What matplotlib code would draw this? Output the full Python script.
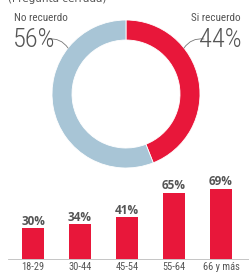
import matplotlib.pyplot as plt

# Data
donut_labels = ['Si recuerdo', 'No recuerdo']
donut_values = [44, 56]
donut_colors = ['#E8173A', '#A8C5D6']

age_groups = ['18-29', '30-44', '45-54', '55-64', '66 y más']
recall_pct = [30, 34, 41, 65, 69]
bar_color = '#E8173A'

W, H = 249, 273
fig = plt.figure(figsize=(W / 100, H / 100), dpi=100)


def box(x0, y0_top, w, h):
    # pixel box (top-left origin) -> figure fraction
    return [x0 / W, 1 - (y0_top + h) / H, w / W, h / H]


# header (cut off in the original)
fig.text(8 / W, 1 + 1 / H, '(Pregunta cerrada)', fontsize=7.5, color='#555555',
         va='center', ha='left')

# Donut
cx, cy = 126, 94
ax_d = fig.add_axes(box(cx - 80, cy - 80, 160, 160))
ax_d.pie(donut_values, colors=donut_colors, startangle=90, counterclock=False,
         radius=74, wedgeprops=dict(width=20, edgecolor='white', linewidth=0.6))
ax_d.set_xlim(-80, 80)
ax_d.set_ylim(-80, 80)
ax_d.set_aspect('equal')
ax_d.axis('off')

big = dict(family=['Roboto Condensed', 'DejaVu Sans'], fontweight=300,
           fontsize=19, color='#555555')
small = dict(family=['Roboto Condensed', 'DejaVu Sans'], fontsize=8,
             color='#555555')
fig.text(13 / W, 1 - 40 / H, f'{donut_values[1]}%', ha='left', va='center', **big)
fig.text(242 / W, 1 - 40 / H, f'{donut_values[0]}%', ha='right', va='center', **big)
fig.text(14 / W, 1 - 18 / H, donut_labels[1], ha='left', va='center', **small)
fig.text(241 / W, 1 - 18 / H, donut_labels[0], ha='right', va='center', **small)

# leader lines
ax_d.annotate('', xy=(-58, 46), xytext=(-78, 55), xycoords='data',
              arrowprops=dict(arrowstyle='-', color='#777777', lw=0.6,
                              shrinkA=0, shrinkB=0,
                              connectionstyle='arc3,rad=-0.3'),
              annotation_clip=False)
ax_d.annotate('', xy=(58, 46), xytext=(78, 55), xycoords='data',
              arrowprops=dict(arrowstyle='-', color='#777777', lw=0.6,
                              shrinkA=0, shrinkB=0,
                              connectionstyle='arc3,rad=0.3'),
              annotation_clip=False)

# Bars
ax_b = fig.add_axes(box(0, 180, W, 79))
x = range(len(age_groups))
ax_b.bar(x, recall_pct, width=0.47, color=bar_color)
ax_b.set_xlim(-33 / 47, (W - 33) / 47)
ax_b.set_ylim(0, 79 / 1.02)
for xi, v in zip(x, recall_pct):
    ax_b.text(xi, v + 0.5, f'{v}%', ha='center', va='bottom', fontsize=8.5,
              family=['Open Sans', 'DejaVu Sans'], fontweight='bold',
              color='#555555')
ax_b.set_xticks(list(x))
ax_b.set_xticklabels(age_groups, fontsize=7.5, color='#555555',
                     family=['Roboto Condensed', 'DejaVu Sans'])
ax_b.tick_params(axis='x', length=0, pad=2)
ax_b.set_yticks([])
for s in ['top', 'right', 'left']:
    ax_b.spines[s].set_visible(False)
ax_b.spines['bottom'].set_color('#bbbbbb')
ax_b.spines['bottom'].set_linewidth(0.6)
ax_b.spines['bottom'].set_bounds(-25 / 47, (W - 33) / 47)

fig.savefig('out.png', dpi=100)
